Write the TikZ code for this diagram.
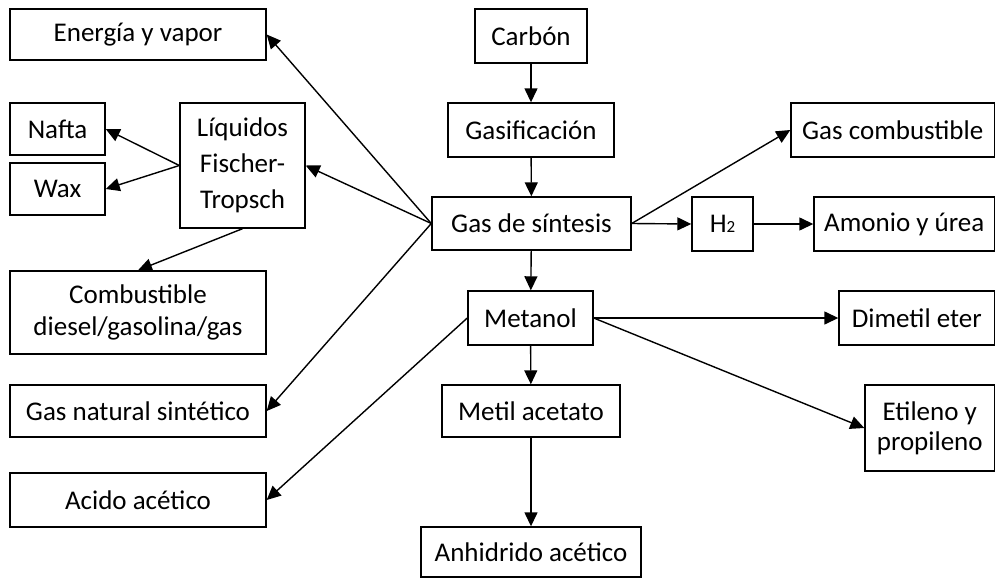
\documentclass[tikz,border=0pt]{standalone}
\usepackage{fontspec}
\setmainfont{Carlito}
\usetikzlibrary{arrows.meta}
\tikzset{
  caja/.style={draw,line width=0.7pt,inner sep=0pt,align=center,font=\fontsize{13.5}{16}\selectfont},
  flecha/.style={-{Triangle[length=7pt,width=6.5pt]},line width=0.7pt}
}

\begin{document}
\begin{tikzpicture}[x=0.5pt,y=-0.5pt]
\useasboundingbox (0,0) rectangle (996,578);

% columna izquierda
\node[caja,minimum width=128pt,minimum height=25.5pt] (energia) at (138,34.5) {Energía y vapor};
\node[caja,minimum width=47.5pt,minimum height=26pt] (nafta) at (57.5,129) {Nafta};
\node[caja,minimum width=47.5pt,minimum height=26pt] (wax) at (57.5,189) {Wax};
\node[caja,minimum width=62.5pt,minimum height=62.5pt,font=\fontsize{13.5}{18}\selectfont] (ft) at (242.5,165.5) {Líquidos\\Fischer-\\Tropsch};
\node[caja,minimum width=128pt,minimum height=41.5pt] (combust) at (138,312.5) {Combustible\\diesel/gasolina/gas};
\node[caja,minimum width=128pt,minimum height=26pt] (gns) at (138,411) {Gas natural sintético};
\node[caja,minimum width=128pt,minimum height=27pt] (acido) at (138,500) {Acido acético};

% columna central
\node[caja,minimum width=56pt,minimum height=27pt] (carbon) at (531,36) {Carbón};
\node[caja,minimum width=83pt,minimum height=27pt] (gasif) at (531,130) {Gasificación};
\node[caja,minimum width=99.5pt,minimum height=26.5pt] (sintesis) at (531.5,223.5) {Gas de síntesis};
\node[caja,minimum width=62.5pt,minimum height=27pt] (metanol) at (530.5,318) {Metanol};
\node[caja,minimum width=89pt,minimum height=26pt] (metil) at (531,411) {Metil acetato};
\node[caja,minimum width=110pt,minimum height=25pt] (anhid) at (531,552) {Anhidrido acético};

% columna derecha
\node[caja,minimum width=101.75pt,minimum height=27pt] (gascomb) at (892.75,130) {Gas combustible};
\node[caja,minimum width=30.5pt,minimum height=27pt] (h2) at (722.5,224) {H{\fontsize{8.5}{8.5}\selectfont 2}};
\node[caja,minimum width=90.25pt,minimum height=27pt] (amonio) at (904.25,224) {Amonio y úrea};
\node[caja,minimum width=77.75pt,minimum height=27pt] (dme) at (916.75,318) {Dimetil eter};
\node[caja,minimum width=64.75pt,minimum height=43pt,font=\fontsize{13.5}{15}\selectfont] (etileno) at (929.75,428) {Etileno y\\propileno};

\draw[flecha] (carbon) -- (gasif);
\draw[flecha] (gasif) -- (sintesis);
\draw[flecha] (sintesis) -- (metanol);
\draw[flecha] (metanol) -- (metil);
\draw[flecha] (metil) -- (anhid);

\draw[flecha] (sintesis.west) -- (energia.east);
\draw[flecha] (sintesis.west) -- (ft.east);
\draw[flecha] (sintesis.west) -- (gns.east);
\draw[flecha] (ft.west) -- (nafta.east);
\draw[flecha] (ft.west) -- (wax.east);
\draw[flecha] (ft.south) -- (combust.north);
\draw[flecha] (metanol.west) -- (acido.east);

\draw[flecha] (sintesis.east) -- (gascomb.west);
\draw[flecha] (sintesis.east) -- (h2.west);
\draw[flecha] (h2.east) -- (amonio.west);
\draw[flecha] (metanol.east) -- (dme.west);
\draw[flecha] (metanol.east) -- (etileno.west);
\end{tikzpicture}
\end{document}
